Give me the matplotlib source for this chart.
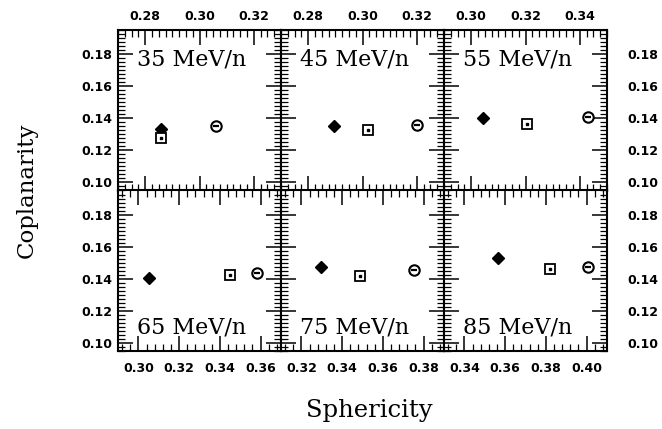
import matplotlib
matplotlib.use('Agg')
import matplotlib.pyplot as plt
from matplotlib.ticker import MultipleLocator, FormatStrFormatter

# beam energies, one panel each
energies = ['35 MeV/n', '45 MeV/n', '55 MeV/n', '65 MeV/n', '75 MeV/n', '85 MeV/n']

# sphericity (x) and coplanarity (y) for the three symbols in each panel
diamond_s = [0.286, 0.2895, 0.3045, 0.305, 0.3295, 0.3565]
diamond_c = [0.1335, 0.135, 0.140, 0.1405, 0.1475, 0.153]
square_s = [0.286, 0.302, 0.3205, 0.345, 0.349, 0.382]
square_c = [0.1275, 0.133, 0.1367, 0.1423, 0.142, 0.146]
circle_s = [0.306, 0.320, 0.343, 0.358, 0.3755, 0.4005]
circle_c = [0.135, 0.1356, 0.1408, 0.1439, 0.1454, 0.1475]

# axis ranges
xlims = [(0.27, 0.33), (0.27, 0.33), (0.29, 0.35),
         (0.29, 0.37), (0.31, 0.39), (0.33, 0.41)]
ylim = (0.095, 0.195)

fig = plt.figure(figsize=(6.62, 4.29), dpi=100)
axes = fig.subplots(2, 3, gridspec_kw=dict(left=118/662, right=607/662,
                                           top=1-30/429, bottom=1-351/429,
                                           wspace=0, hspace=0))

for i, ax in enumerate(axes.flat):
    row, col = divmod(i, 3)
    ax.set_xlim(*xlims[i])
    ax.set_ylim(*ylim)

    ax.xaxis.set_major_locator(MultipleLocator(0.02))
    ax.xaxis.set_minor_locator(MultipleLocator(0.0025 if row == 0 else 0.004))
    ax.yaxis.set_major_locator(MultipleLocator(0.02))
    ax.yaxis.set_minor_locator(MultipleLocator(0.0025))
    ax.xaxis.set_major_formatter(FormatStrFormatter('%.2f'))
    ax.yaxis.set_major_formatter(FormatStrFormatter('%.2f'))

    ax.tick_params(which='both', direction='in', top=True, right=True,
                   bottom=True, left=True,
                   labelbottom=(row == 1), labeltop=(row == 0),
                   labelleft=(col == 0), labelright=(col == 2))
    ax.tick_params(which='major', length=11, width=1.1)
    ax.tick_params(which='minor', length=5, width=0.9)
    ax.tick_params(axis='x', pad=(5 if row == 0 else 8))
    ax.tick_params(axis='y', pad=(15 if col == 2 else 4))
    for lab in ax.get_xticklabels() + ax.get_yticklabels():
        lab.set_fontfamily('DejaVu Sans')
        lab.set_fontweight('bold')
        lab.set_fontsize(9)
    for sp in ax.spines.values():
        sp.set_linewidth(1.5)

    # filled diamond
    ax.plot(diamond_s[i], diamond_c[i], marker='D', ms=6, color='black',
            linestyle='none')
    # open square with a dot
    ax.plot(square_s[i], square_c[i], marker='s', ms=7, mfc='white',
            mec='black', mew=1.3, linestyle='none')
    ax.plot(square_s[i], square_c[i], marker='s', ms=2, color='black',
            linestyle='none')
    # open circle with a bar
    ax.plot(circle_s[i], circle_c[i], marker='o', ms=7.5, mfc='white',
            mec='black', mew=1.5, linestyle='none')
    ax.plot(circle_s[i], circle_c[i], marker='_', ms=5, color='black',
            mew=1.6, linestyle='none')

    ax.text(0.115, 0.815 if row == 0 else 0.145, energies[i],
            transform=ax.transAxes, family='DejaVu Serif', fontsize=16,
            ha='left', va='center')

fig.text(27/662, 1-190/429, 'Coplanarity', rotation=90, family='DejaVu Serif',
         fontsize=16.5, ha='center', va='center')
fig.text(369/662, 1-410/429, 'Sphericity', family='DejaVu Serif',
         fontsize=17.5, ha='center', va='center')

fig.savefig('out.png', dpi=100)
